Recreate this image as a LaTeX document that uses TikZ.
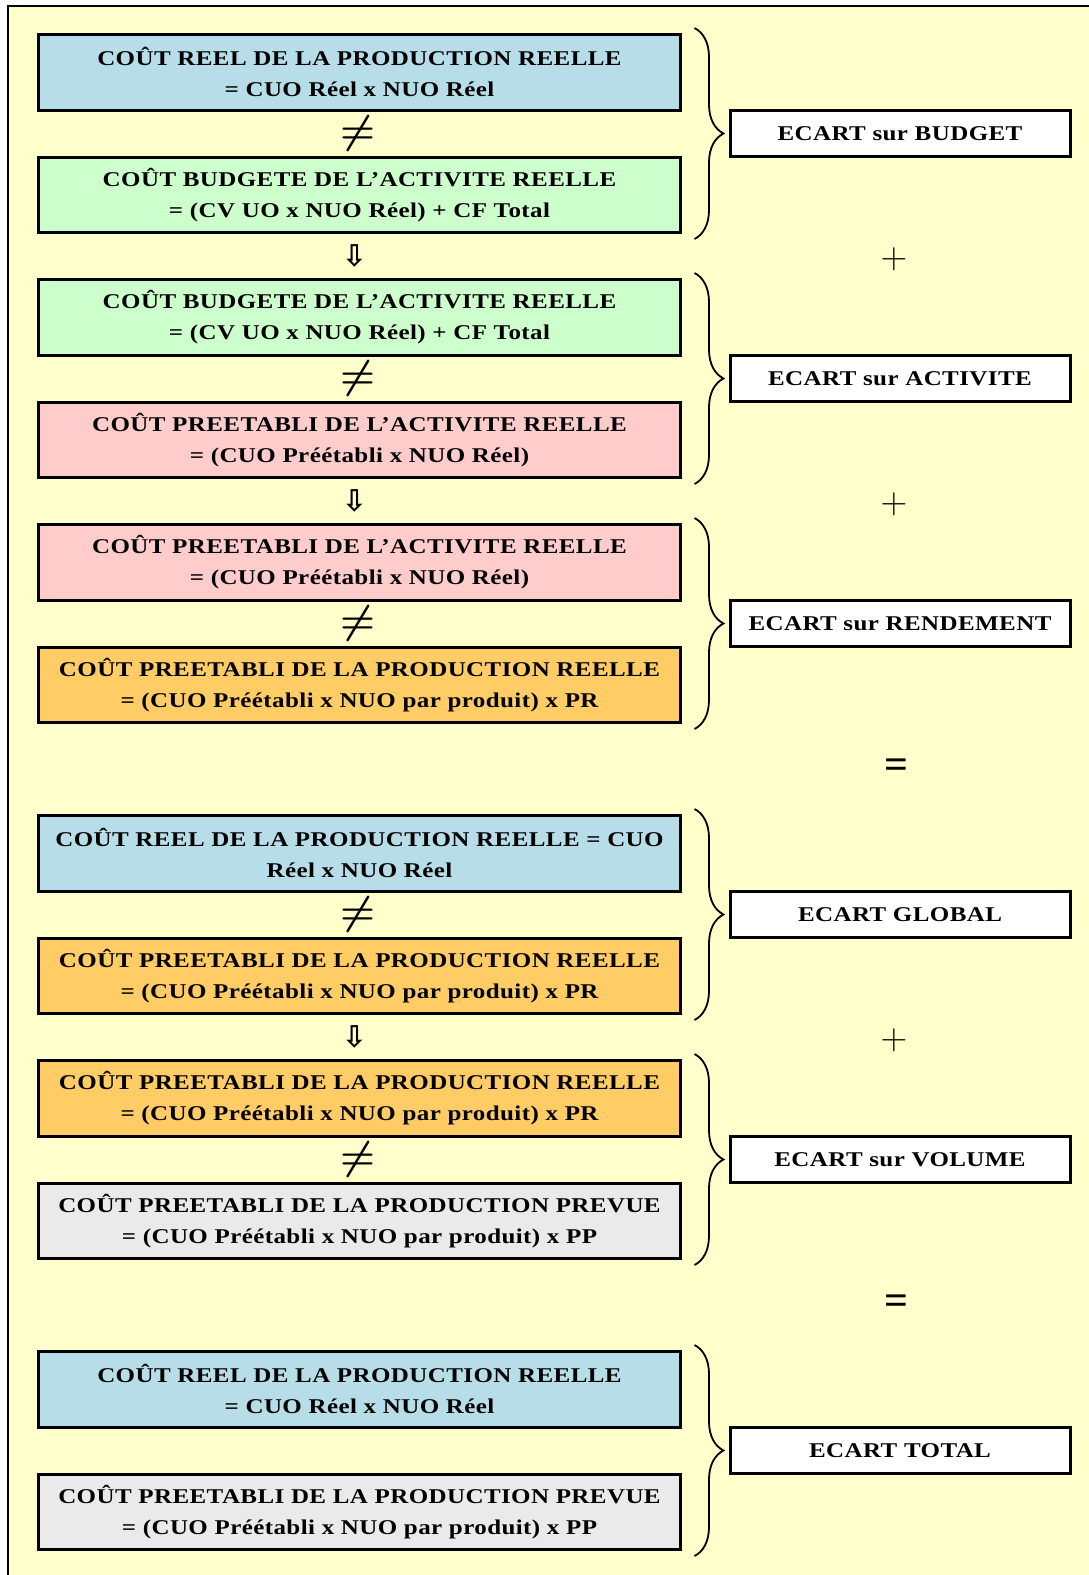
\documentclass[tikz,border=0pt]{standalone}
\usepackage{fix-cm}
\usepackage{fontspec}
\setmainfont{Liberation Serif}
\newfontfamily\boitefont[FakeStretch=1.19,LetterSpace=2]{Liberation Serif}
\newfontfamily\flechefont{DejaVu Sans}
\usetikzlibrary{positioning,decorations.pathreplacing,calc}

\definecolor{fond}{HTML}{FFFFCC}
\definecolor{bleuc}{HTML}{B7DEE8}
\definecolor{vertc}{HTML}{CCFFCC}
\definecolor{rosec}{HTML}{FFCCCC}
\definecolor{orangec}{HTML}{FFCC66}
\definecolor{grisc}{HTML}{EAEAEA}

\newcommand{\boxfont}{\boitefont\fontsize{21}{31}\selectfont\bfseries}

\begin{document}
\begin{tikzpicture}[node distance=44pt]
    \tikzstyle{cout}=[draw, line width=3pt, minimum width=642pt, minimum height=75.5pt, align=center, font=\boxfont]
    \tikzstyle{ecart}=[draw, fill=white, line width=3pt, minimum width=340pt, minimum height=46pt, font=\boxfont]
    \tikzstyle{signe}=[font=\fontsize{37}{37}\selectfont]
    \tikzstyle{egal}=[font=\fontsize{42}{42}\selectfont\bfseries]
    \tikzstyle{differe}=[font=\fontsize{40}{40}\selectfont\boldmath]
    \tikzstyle{fleche}=[font=\flechefont\bfseries\fontsize{30}{30}\selectfont]
    \tikzstyle{accolade}=[decorate, decoration={brace, amplitude=29pt}, line width=1.8pt]

    % cadre
    \useasboundingbox (0,0) rectangle (1089pt,-1575pt);
    \fill[fond] (8pt,-6pt) rectangle (1089pt,-1575pt);
    \draw[line width=2pt] (8pt,-1575pt) -- (8pt,-6pt) -- (1089pt,-6pt);

    % colonne des couts
    \node[cout, fill=bleuc]   (reel)    at (359.5pt,-72.25pt) {COÛT REEL DE LA PRODUCTION REELLE\\= CUO Réel x NUO Réel};
    \node[cout, fill=vertc]   (budg)    [below=of reel]    {COÛT BUDGETE DE L’ACTIVITE REELLE\\= (CV UO x NUO Réel) + CF Total};
    \node[cout, fill=vertc]   (budgb)   [below=of budg]    {COÛT BUDGETE DE L’ACTIVITE REELLE\\= (CV UO x NUO Réel) + CF Total};
    \node[cout, fill=rosec]   (actr)    [below=of budgb]   {COÛT PREETABLI DE L’ACTIVITE REELLE\\= (CUO Préétabli x NUO Réel)};
    \node[cout, fill=rosec]   (actrb)   [below=of actr]    {COÛT PREETABLI DE L’ACTIVITE REELLE\\= (CUO Préétabli x NUO Réel)};
    \node[cout, fill=orangec] (prodr)   [below=of actrb]   {COÛT PREETABLI DE LA PRODUCTION REELLE\\= (CUO Préétabli x NUO par produit) x PR};
    \node[cout, fill=bleuc]   (reelb)   [below=90pt of prodr] {COÛT REEL DE LA PRODUCTION REELLE = CUO\\Réel x NUO Réel};
    \node[cout, fill=orangec] (prodrb)  [below=of reelb]   {COÛT PREETABLI DE LA PRODUCTION REELLE\\= (CUO Préétabli x NUO par produit) x PR};
    \node[cout, fill=orangec] (prodrc)  [below=of prodrb]  {COÛT PREETABLI DE LA PRODUCTION REELLE\\= (CUO Préétabli x NUO par produit) x PR};
    \node[cout, fill=grisc]   (prodp)   [below=of prodrc]  {COÛT PREETABLI DE LA PRODUCTION PREVUE\\= (CUO Préétabli x NUO par produit) x PP};
    \node[cout, fill=bleuc]   (reelc)   [below=90pt of prodp] {COÛT REEL DE LA PRODUCTION REELLE\\= CUO Réel x NUO Réel};
    \node[cout, fill=grisc]   (prodpb)  [below=of reelc]   {COÛT PREETABLI DE LA PRODUCTION PREVUE\\= (CUO Préétabli x NUO par produit) x PP};

    % signes entre les couts
    \node[differe] (ne1) at ($(reel.south)!0.5!(budg.north)+(-2pt,0)$)     {$\neq$};
    \node[differe] (ne2) at ($(budgb.south)!0.5!(actr.north)+(-2pt,0)$)    {$\neq$};
    \node[differe] (ne3) at ($(actrb.south)!0.5!(prodr.north)+(-2pt,0)$)   {$\neq$};
    \node[differe] (ne4) at ($(reelb.south)!0.5!(prodrb.north)+(-2pt,0)$)  {$\neq$};
    \node[differe] (ne5) at ($(prodrc.south)!0.5!(prodp.north)+(-2pt,0)$)  {$\neq$};
    \node[fleche] (f1) at ($(budg.south)!0.5!(budgb.north)+(-5pt,0)$)    {⇩};
    \node[fleche] (f2) at ($(actr.south)!0.5!(actrb.north)+(-5pt,0)$)    {⇩};
    \node[fleche] (f3) at ($(prodrb.south)!0.5!(prodrc.north)+(-5pt,0)$) {⇩};

    % accolades
    \draw[accolade] ($(reel.north east)+(12.5pt,5pt)$)  -- ($(budg.south east)+(12.5pt,-5pt)$);
    \draw[accolade] ($(budgb.north east)+(12.5pt,5pt)$) -- ($(actr.south east)+(12.5pt,-5pt)$);
    \draw[accolade] ($(actrb.north east)+(12.5pt,5pt)$) -- ($(prodr.south east)+(12.5pt,-5pt)$);
    \draw[accolade] ($(reelb.north east)+(12.5pt,5pt)$) -- ($(prodrb.south east)+(12.5pt,-5pt)$);
    \draw[accolade] ($(prodrc.north east)+(12.5pt,5pt)$) -- ($(prodp.south east)+(12.5pt,-5pt)$);
    \draw[accolade] ($(reelc.north east)+(12.5pt,5pt)$) -- ($(prodpb.south east)+(12.5pt,-5pt)$);

    % ecarts
    \node[ecart] (ebudget)  at ($(reel.north east)!0.5!(budg.south east)+(218pt,0)$)    {ECART sur BUDGET};
    \node[ecart] (eactiv)   at ($(budgb.north east)!0.5!(actr.south east)+(218pt,0)$)   {ECART sur ACTIVITE};
    \node[ecart] (erend)    at ($(actrb.north east)!0.5!(prodr.south east)+(218pt,0)$)  {ECART sur RENDEMENT};
    \node[ecart] (eglobal)  at ($(reelb.north east)!0.5!(prodrb.south east)+(218pt,0)$) {ECART GLOBAL};
    \node[ecart] (evolume)  at ($(prodrc.north east)!0.5!(prodp.south east)+(218pt,0)$) {ECART sur VOLUME};
    \node[ecart] (etotal)   at ($(reelc.north east)!0.5!(prodpb.south east)+(218pt,0)$) {ECART TOTAL};

    % operations entre les ecarts
    \node[signe] (op1) at ($(ebudget)!0.5!(eactiv)+(-6pt,-3pt)$)  {$+$};
    \node[signe] (op2) at ($(eactiv)!0.5!(erend)+(-6pt,-3pt)$)    {$+$};
    \node[egal]  (op3) at ($(erend)!0.5!(eglobal)+(-4pt,0pt)$)    {=};
    \node[signe] (op4) at ($(eglobal)!0.5!(evolume)+(-6pt,-3pt)$) {$+$};
    \node[egal]  (op5) at ($(evolume)!0.5!(etotal)+(-4pt,0pt)$)   {=};
\end{tikzpicture}
\end{document}
